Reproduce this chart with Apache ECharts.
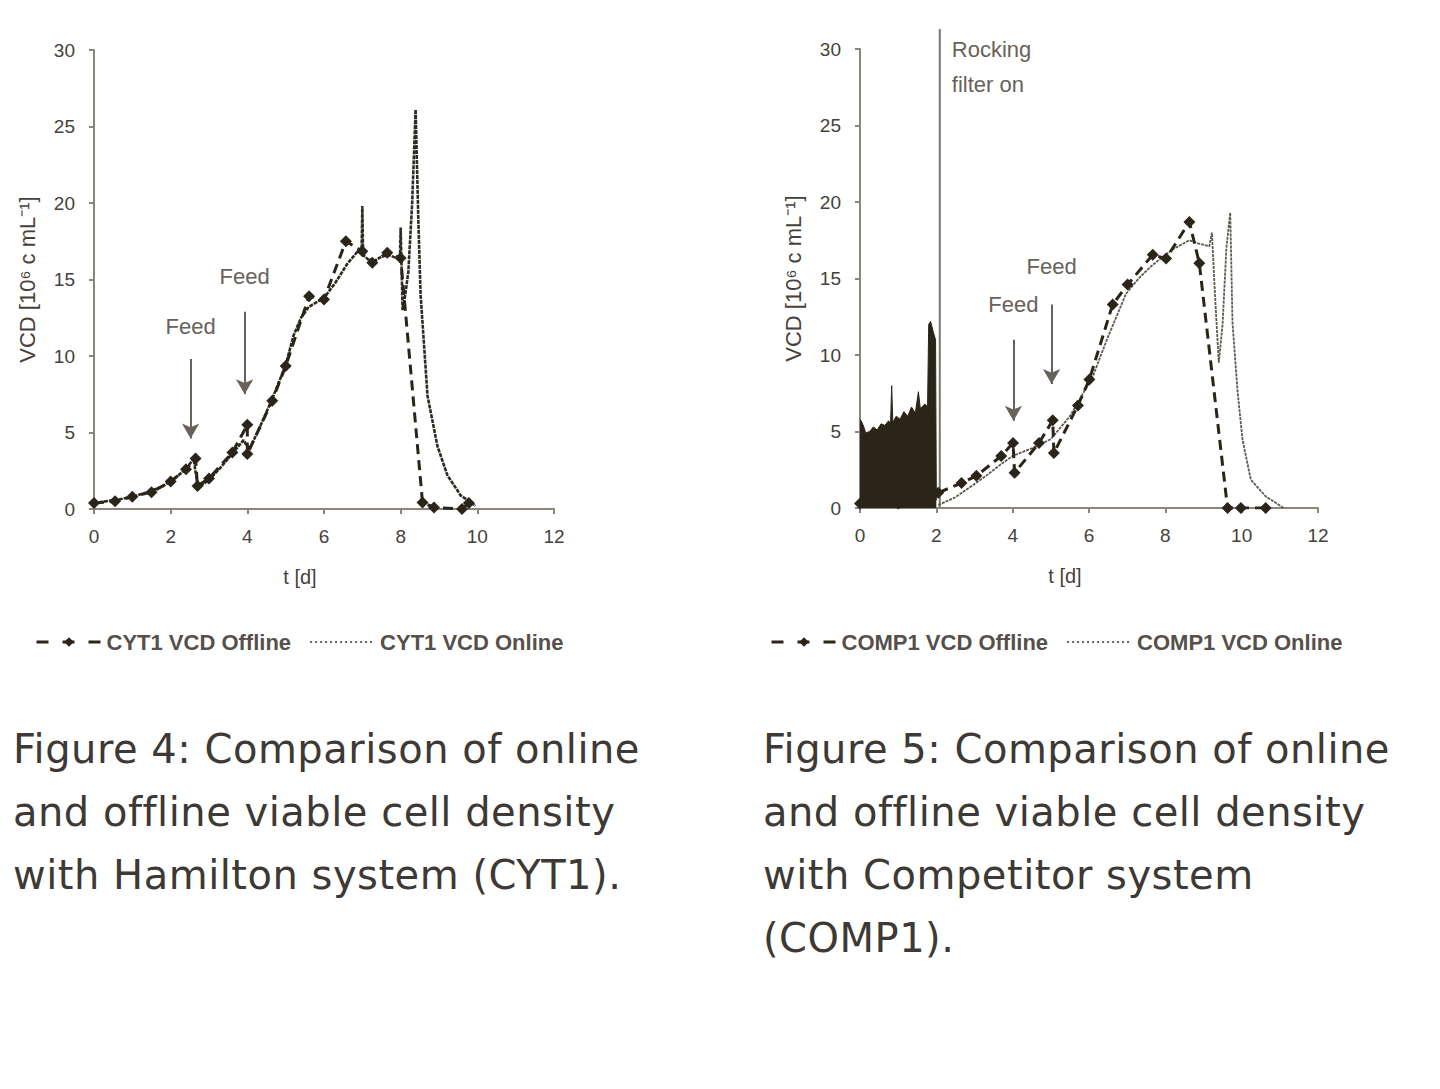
<!DOCTYPE html>
<html>
<head>
<meta charset="utf-8">
<script src="https://cdn.jsdelivr.net/npm/echarts@6/dist/echarts.min.js"></script>
<style>
  html, body { margin: 0; padding: 0; background: #ffffff; }
  #chart { position: absolute; left: 0; top: 0; width: 1440px; height: 1089px; }
  .cap { position: absolute; font-family: "DejaVu Sans", sans-serif; font-size: 40px; letter-spacing: 0.5px; line-height: 63px; color: #3d3934; white-space: nowrap; }
</style>
</head>
<body>
<div id="chart"></div>
<div class="cap" style="left:13px; top:718px;">Figure 4: Comparison of online<br>and offline viable cell density<br>with Hamilton system (CYT1).</div>
<div class="cap" style="left:763px; top:718px;">Figure 5: Comparison of online<br>and offline viable cell density<br>with Competitor system<br>(COMP1).</div>
<script>
// ---- CYT1 (Figure 4) ----
const cyt1OfflineT = [0, 0.55, 1.0, 1.5, 2.0, 2.4, 2.65, 2.7, 3.0, 3.61, 4.0, 4.0, 4.65, 5.0, 5.61, 6.0, 6.57, 7.0, 7.26, 7.65, 8.0, 8.57, 8.87, 9.6, 9.78];
const cyt1OfflineV = [0.4, 0.5, 0.8, 1.1, 1.8, 2.6, 3.3, 1.5, 2.0, 3.7, 5.5, 3.6, 7.07, 9.35, 13.9, 13.7, 17.5, 16.85, 16.1, 16.75, 16.4, 0.43, 0.1, 0.0, 0.4];
const cyt1OnlineT = [0, 0.3, 0.6, 1.0, 1.4, 1.8, 2.1, 2.4, 2.6, 2.65, 2.72, 3.0, 3.3, 3.6, 3.9, 4.05, 4.3, 4.65, 5.0, 5.2, 5.4, 5.6, 5.8, 6.0, 6.3, 6.6, 6.9, 6.98, 7.0, 7.02, 7.25, 7.5, 7.7, 7.98, 8.0, 8.02, 8.05, 8.12, 8.2, 8.3, 8.39, 8.46, 8.52, 8.7, 8.96, 9.22, 9.57, 9.83, 9.95];
const cyt1OnlineV = [0.4, 0.5, 0.6, 0.8, 1.1, 1.5, 2.0, 2.6, 3.3, 2.4, 1.4, 1.9, 2.7, 3.6, 4.5, 3.9, 5.2, 7.2, 9.4, 11.3, 12.5, 13.2, 13.5, 13.8, 14.8, 16.0, 16.9, 16.7, 19.8, 16.6, 16.1, 16.5, 16.6, 16.3, 18.4, 16.2, 13.0, 14.0, 15.5, 20.0, 26.1, 19.0, 14.0, 7.4, 4.1, 2.2, 0.87, 0.45, 0.2];
const cyt1FeedT = [2.52, 3.93];
const cyt1FeedTop = [9.8, 12.9];
const cyt1FeedBottom = [4.6, 7.5];
const cyt1FeedLabelV = [11.9, 15.2];

// ---- COMP1 (Figure 5) ----
const comp1OfflineT = [0, 1.0, 2.05, 2.66, 3.05, 3.7, 4.01, 4.05, 4.69, 5.05, 5.08, 5.71, 6.01, 6.62, 7.01, 7.67, 8.02, 8.63, 8.89, 9.63, 9.98, 10.63];
const comp1OfflineV = [0.3, 0.3, 1.0, 1.63, 2.1, 3.4, 4.25, 2.3, 4.25, 5.73, 3.6, 6.7, 8.4, 13.3, 14.6, 16.55, 16.3, 18.7, 16.0, 0.0, 0.0, 0.0];
const comp1OnlineT = [2.05, 2.5, 2.96, 3.3, 3.66, 4.0, 4.5, 5.0, 5.5, 6.1, 6.5, 6.97, 7.3, 7.67, 8.19, 8.63, 8.85, 9.15, 9.22, 9.3, 9.4, 9.5, 9.6, 9.7, 9.76, 9.89, 10.02, 10.24, 10.63, 10.98, 11.1];
const comp1OnlineV = [0.2, 0.7, 1.5, 2.1, 2.8, 3.4, 3.9, 4.5, 6.0, 8.6, 11.2, 14.0, 15.0, 15.9, 16.9, 17.5, 17.3, 17.1, 18.0, 14.0, 9.5, 12.0, 17.0, 19.3, 12.1, 7.7, 4.5, 1.85, 0.76, 0.2, 0.0];
const comp1NoiseT = [0, 0.05, 0.1, 0.15, 0.25, 0.35, 0.45, 0.55, 0.65, 0.75, 0.8, 0.83, 0.86, 0.95, 1.05, 1.15, 1.25, 1.35, 1.45, 1.53, 1.58, 1.7, 1.77, 1.8, 1.85, 1.92, 1.98, 2.0];
const comp1NoiseV = [5.8, 5.6, 5.3, 4.9, 5.0, 5.3, 5.1, 5.5, 5.4, 5.7, 5.5, 8.0, 5.6, 6.0, 5.8, 6.3, 6.0, 6.6, 6.2, 7.6, 6.5, 6.8, 6.6, 12.0, 12.2, 11.5, 11.0, 0.5];
const comp1FeedT = [4.02, 5.02];
const comp1FeedTop = [11.0, 13.3];
const comp1FeedBottom = [5.7, 8.1];
const comp1FeedLabelV = [13.3, 15.8];
const rockingT = 2.09;
const rockingTop = 31.3;
const rockingLabelV = 28.8;

const xTicks = [0, 2, 4, 6, 8, 10, 12];
const yTicks = [0, 5, 10, 15, 20, 25, 30];

const zip = (a, b) => a.map((v, i) => [v, b[i]]);

const DARK = '#2b2519';
const AXIS = '#8b8679';
const LABEL = '#46413a';
const ANNOT = '#67625a';

function xAxisFor(gi) {
  return {
    gridIndex: gi, type: 'value', min: xTicks[0], max: xTicks[xTicks.length - 1], interval: 2,
    name: 't [d]', nameLocation: 'middle', nameGap: 58,
    nameTextStyle: { fontFamily: 'Liberation Sans', fontSize: 20, color: LABEL, padding: [0, 48, 0, 0] },
    axisLine: { show: true, lineStyle: { color: AXIS, width: 2 } },
    axisTick: { show: true, length: 5, lineStyle: { color: AXIS, width: 2 } },
    axisLabel: { margin: 18, fontFamily: 'Liberation Sans', fontSize: 19, color: LABEL },
    splitLine: { show: false }
  };
}
function yAxisFor(gi) {
  return {
    gridIndex: gi, type: 'value', min: yTicks[0], max: yTicks[yTicks.length - 1], interval: 5,
    name: 'VCD [10\u2076 c mL\u207B\u00B9]', nameLocation: 'middle', nameGap: 56,
    nameTextStyle: { fontFamily: 'Liberation Sans', fontSize: 22, color: LABEL },
    axisLine: { show: true, lineStyle: { color: AXIS, width: 2 } },
    axisTick: { show: true, length: 5, lineStyle: { color: AXIS, width: 2 } },
    axisLabel: { margin: 19, fontFamily: 'Liberation Sans', fontSize: 19, color: LABEL },
    splitLine: { show: false }
  };
}
function feedArrows(ts, tops, bottoms) {
  return ts.map((t, i) => [
    { coord: [t, tops[i]], symbol: 'none' },
    { coord: [t, bottoms[i]], symbol: 'arrow', symbolSize: [13, 15] }
  ]);
}
function feedLabels(ts, vs) {
  return ts.map((t, i) => ({
    coord: [t, vs[i]], symbol: 'circle', symbolSize: 0,
    label: { show: true, position: 'inside', formatter: 'Feed', fontFamily: 'Liberation Sans', fontSize: 22, color: ANNOT }
  }));
}

const legendText = { fontFamily: 'Liberation Sans', fontSize: 22, fontWeight: 'bold', color: '#55504a' };
const onlineLegendItem = (name) => ({
  name, lineStyle: { type: [2, 3], width: 2, color: '#6a655a' },
  itemStyle: { color: 'rgba(0,0,0,0)', borderWidth: 0, opacity: 0 }
});

const option = {
  backgroundColor: '#ffffff',
  animation: false,
  grid: [
    { left: 94, top: 50, width: 460, height: 459 },
    { left: 860, top: 49, width: 458, height: 459 }
  ],
  xAxis: [xAxisFor(0), xAxisFor(1)],
  yAxis: [yAxisFor(0), yAxisFor(1)],
  legend: [
    {
      left: 30, top: 626, itemWidth: 65, itemHeight: 12, itemGap: 18, textStyle: legendText,
      data: [
        { name: 'CYT1 VCD Offline', lineStyle: { type: [12, 14], width: 3, color: DARK }, itemStyle: { color: DARK } },
        onlineLegendItem('CYT1 VCD Online')
      ]
    },
    {
      left: 765, top: 626, itemWidth: 65, itemHeight: 12, itemGap: 18, textStyle: legendText,
      data: [
        { name: 'COMP1 VCD Offline', lineStyle: { type: [12, 14], width: 3, color: DARK }, itemStyle: { color: DARK } },
        onlineLegendItem('COMP1 VCD Online')
      ]
    }
  ],
  series: [
    {
      name: 'CYT1 VCD Online', type: 'line', xAxisIndex: 0, yAxisIndex: 0,
      data: zip(cyt1OnlineT, cyt1OnlineV), symbol: 'none', z: 2,
      lineStyle: { color: '#2f2a1f', width: 2.6, type: [4, 1] }, itemStyle: { color: '#2f2a1f' }
    },
    {
      name: 'CYT1 VCD Offline', type: 'line', xAxisIndex: 0, yAxisIndex: 0,
      data: zip(cyt1OfflineT, cyt1OfflineV), symbol: 'diamond', symbolSize: 12, z: 3,
      lineStyle: { color: DARK, width: 3, type: [10, 6] }, itemStyle: { color: DARK },
      markLine: {
        silent: true, animation: false, label: { show: false },
        lineStyle: { color: ANNOT, width: 2, type: 'solid' },
        data: feedArrows(cyt1FeedT, cyt1FeedTop, cyt1FeedBottom)
      },
      markPoint: { silent: true, animation: false, data: feedLabels(cyt1FeedT, cyt1FeedLabelV) }
    },
    {
      name: 'COMP1 VCD Online', type: 'line', xAxisIndex: 1, yAxisIndex: 1,
      data: zip(comp1OnlineT, comp1OnlineV), symbol: 'none', z: 2,
      lineStyle: { color: '#5e594e', width: 1.8, type: [3, 1] }, itemStyle: { color: '#5e594e' }
    },
    {
      name: 'COMP1 VCD Online', type: 'line', xAxisIndex: 1, yAxisIndex: 1,
      data: zip(comp1NoiseT, comp1NoiseV), symbol: 'none', z: 2,
      lineStyle: { color: DARK, width: 1 }, areaStyle: { color: DARK, opacity: 1 }, itemStyle: { color: DARK }
    },
    {
      name: 'COMP1 VCD Offline', type: 'line', xAxisIndex: 1, yAxisIndex: 1,
      data: zip(comp1OfflineT, comp1OfflineV), symbol: 'diamond', symbolSize: 12, z: 3,
      lineStyle: { color: DARK, width: 3, type: [10, 6] }, itemStyle: { color: DARK },
      markLine: {
        silent: true, animation: false, label: { show: false },
        lineStyle: { color: ANNOT, width: 2, type: 'solid' },
        data: feedArrows(comp1FeedT, comp1FeedTop, comp1FeedBottom)
      },
      markPoint: { silent: true, animation: false, data: feedLabels(comp1FeedT, comp1FeedLabelV) }
    },
    {
      name: 'Rocking filter on', type: 'line', xAxisIndex: 1, yAxisIndex: 1, clip: false,
      data: [[rockingT, 0], [rockingT, rockingTop]], symbol: 'none', z: 1,
      lineStyle: { color: '#7a756a', width: 2 },
      markPoint: {
        silent: true, animation: false,
        data: [{
          coord: [rockingT, rockingLabelV], symbol: 'circle', symbolSize: 0,
          label: { show: true, position: 'right', distance: 12, align: 'left', verticalAlign: 'middle', formatter: 'Rocking\nfilter on', lineHeight: 35, fontFamily: 'Liberation Sans', fontSize: 22, color: ANNOT }
        }]
      }
    }
  ]
};

const chart = echarts.init(document.getElementById('chart'), null, { renderer: 'svg' });
chart.setOption(option);
</script>
</body>
</html>
